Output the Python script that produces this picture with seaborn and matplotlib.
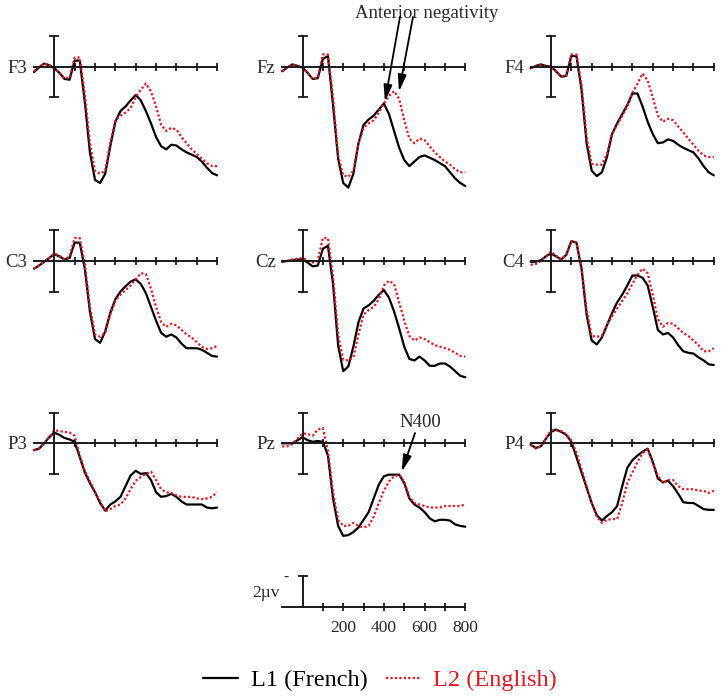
import pandas as pd
import matplotlib
matplotlib.use('Agg')
import matplotlib.pyplot as plt
from matplotlib.lines import Line2D
import seaborn as sns

# 1. data (ms, microvolt; negative plotted up)
times = list(range(-100, 801, 25))

F3_L1 = [0.35, 0.05, -0.2, -0.1, 0.1, 0.4, 0.8, 0.85, -0.4, -0.4, 2.3, 5.6, 7.4, 7.6, 7.0, 5.2, 3.6, 2.9, 2.6, 2.2,
         1.85, 2.2, 2.9, 3.7, 4.6, 5.2, 5.4, 5.1, 5.15, 5.4, 5.6, 5.75, 5.9, 6.2, 6.6, 6.95, 7.1]
F3_L2 = [0.3, 0.0, -0.2, -0.1, 0.1, 0.4, 0.75, 0.7, -0.6, -0.6, 1.8, 5.0, 6.8, 7.0, 6.8, 5.0, 3.5, 3.2, 3.0, 2.7,
         2.0, 1.5, 1.1, 1.6, 2.6, 3.8, 4.2, 4.0, 4.1, 4.6, 5.0, 5.4, 5.7, 6.0, 6.3, 6.5, 6.5]
Fz_L1 = [0.3, 0.05, -0.15, -0.05, 0.05, 0.4, 0.8, 0.75, -0.5, -0.7, 2.5, 6.0, 7.6, 7.9, 7.0, 5.0, 3.8, 3.45, 3.2, 2.8,
         2.4, 3.1, 4.2, 5.3, 6.1, 6.5, 6.2, 5.9, 5.8, 5.95, 6.1, 6.3, 6.5, 6.9, 7.3, 7.6, 7.8]
Fz_L2 = [0.3, 0.05, -0.15, -0.05, 0.05, 0.4, 0.8, 0.7, -0.8, -0.8, 2.0, 5.8, 7.1, 7.2, 6.8, 5.0, 4.0, 3.7, 3.5, 3.0,
         2.4, 1.9, 1.6, 2.1, 3.5, 4.7, 5.0, 4.7, 4.8, 5.2, 5.6, 5.9, 6.2, 6.4, 6.7, 6.9, 6.9]
F4_L1 = [0.1, -0.05, -0.15, -0.05, 0.0, 0.3, 0.65, 0.6, -0.7, -0.7, 1.5, 5.0, 6.8, 7.15, 6.9, 5.9, 4.4, 3.7, 3.1, 2.5,
         1.75, 1.75, 2.6, 3.6, 4.4, 5.0, 4.95, 4.75, 4.85, 5.1, 5.3, 5.45, 5.6, 6.0, 6.5, 6.9, 7.1]
F4_L2 = [0.1, -0.05, -0.1, 0.0, 0.0, 0.3, 0.65, 0.6, -0.8, -0.8, 1.2, 4.6, 6.35, 6.4, 6.4, 5.7, 4.4, 3.8, 3.2, 2.6,
         1.7, 1.1, 0.45, 0.9, 2.0, 3.2, 3.6, 3.4, 3.5, 3.9, 4.3, 4.7, 5.1, 5.5, 5.8, 5.9, 5.9]
C3_L1 = [0.5, 0.3, 0.05, -0.2, -0.45, -0.3, -0.1, -0.2, -1.2, -1.2, 0.5, 3.3, 5.1, 5.35, 4.6, 3.4, 2.5, 2.0, 1.65, 1.35,
         1.2, 1.5, 2.1, 3.0, 3.9, 4.7, 4.95, 4.8, 5.0, 5.4, 5.7, 5.7, 5.7, 5.8, 6.0, 6.2, 6.25]
C3_L2 = [0.5, 0.3, 0.05, -0.2, -0.5, -0.35, -0.1, -0.3, -1.5, -1.5, 0.2, 3.0, 4.8, 4.95, 4.7, 3.5, 2.6, 2.2, 1.9, 1.6,
         1.2, 0.8, 0.85, 1.8, 3.0, 4.0, 4.3, 4.1, 4.2, 4.5, 4.8, 5.0, 5.3, 5.6, 5.75, 5.7, 5.55]
Cz_L1 = [0.05, 0.0, -0.05, -0.1, -0.1, 0.1, 0.35, 0.3, -0.8, -1.0, 1.5, 5.5, 7.2, 6.9, 5.6, 4.0, 3.1, 2.9, 2.6, 2.2,
         1.9, 2.4, 3.3, 4.4, 5.6, 6.4, 6.5, 6.25, 6.5, 6.85, 6.85, 6.7, 6.7, 6.9, 7.2, 7.5, 7.6]
Cz_L2 = [0.05, 0.0, -0.1, -0.15, -0.2, -0.05, 0.1, 0.0, -1.5, -1.5, 1.0, 4.8, 6.45, 6.5, 6.3, 4.8, 3.5, 3.2, 3.0, 2.5,
         1.6, 1.3, 1.5, 2.7, 3.9, 4.9, 5.2, 5.0, 5.1, 5.3, 5.5, 5.6, 5.7, 5.8, 6.0, 6.2, 6.25]
C4_L1 = [0.05, 0.05, -0.05, -0.3, -0.5, -0.3, -0.1, -0.4, -1.3, -1.2, 0.5, 3.5, 5.2, 5.45, 5.0, 4.2, 3.4, 2.7, 2.2, 1.6,
         0.95, 0.95, 1.1, 1.6, 3.0, 4.5, 4.8, 4.7, 5.0, 5.5, 5.9, 6.0, 6.05, 6.3, 6.5, 6.75, 6.8]
C4_L2 = [0.25, 0.2, 0.0, -0.3, -0.6, -0.35, -0.1, -0.4, -1.3, -1.2, 0.4, 3.2, 4.9, 4.95, 4.9, 4.2, 3.6, 3.1, 2.6, 2.1,
         1.5, 0.9, 0.5, 0.8, 2.2, 3.8, 4.3, 4.05, 4.1, 4.4, 4.7, 4.9, 5.2, 5.5, 5.9, 5.9, 5.7]
P3_L1 = [0.45, 0.35, 0.0, -0.4, -0.7, -0.55, -0.35, -0.25, -0.1, 0.9, 1.9, 2.6, 3.2, 3.9, 4.4, 4.0, 3.8, 3.5, 2.8, 2.1,
         1.8, 2.0, 1.95, 2.4, 3.2, 3.5, 3.45, 3.3, 3.5, 3.8, 4.0, 4.0, 4.0, 4.0, 4.2, 4.25, 4.2]
P3_L2 = [0.45, 0.35, 0.0, -0.4, -0.85, -0.8, -0.75, -0.7, -0.5, 0.8, 1.8, 2.5, 3.2, 3.8, 4.45, 4.3, 4.1, 4.0, 3.6, 3.0,
         2.45, 2.2, 2.0, 1.85, 2.4, 3.0, 3.2, 3.25, 3.4, 3.5, 3.5, 3.5, 3.6, 3.65, 3.6, 3.5, 3.2]
Pz_L1 = [0.0, 0.0, 0.0, -0.2, -0.4, -0.2, -0.1, -0.15, -0.1, 0.8, 3.6, 5.4, 6.05, 6.0, 5.8, 5.5, 5.0, 4.5, 3.6, 2.7,
         2.15, 2.05, 2.05, 2.05, 2.6, 3.6, 4.0, 4.2, 4.5, 4.9, 5.1, 5.0, 5.0, 5.05, 5.3, 5.4, 5.45]
Pz_L2 = [0.2, 0.2, 0.05, -0.3, -0.65, -0.6, -0.5, -0.9, -1.0, 0.5, 3.2, 5.0, 5.4, 5.4, 5.2, 5.4, 5.5, 5.4, 4.8, 3.9,
         3.1, 2.5, 2.15, 2.07, 2.5, 3.5, 3.9, 4.0, 4.1, 4.2, 4.2, 4.2, 4.1, 4.1, 4.1, 4.1, 4.0]
P4_L1 = [0.1, 0.3, 0.2, -0.3, -0.75, -0.9, -0.75, -0.55, -0.1, 0.9, 1.9, 2.9, 3.9, 4.7, 5.05, 4.75, 4.5, 4.1, 2.8, 1.6,
         1.1, 0.8, 0.55, 0.35, 1.2, 2.3, 2.55, 2.45, 2.8, 3.3, 3.85, 3.9, 3.9, 4.1, 4.3, 4.35, 4.35]
P4_L2 = [0.1, 0.35, 0.2, -0.3, -0.85, -0.85, -0.8, -0.6, -0.15, 0.6, 1.7, 2.8, 3.9, 4.8, 5.2, 5.0, 4.95, 4.95, 3.9, 2.6,
         1.9, 1.2, 0.65, 0.4, 1.3, 2.1, 2.6, 2.4, 2.4, 2.8, 3.0, 3.0, 3.0, 3.1, 3.1, 3.25, 3.1]

channels = ['F3', 'Fz', 'F4', 'C3', 'Cz', 'C4', 'P3', 'Pz', 'P4']
waves = {
    'F3': (F3_L1, F3_L2), 'Fz': (Fz_L1, Fz_L2), 'F4': (F4_L1, F4_L2),
    'C3': (C3_L1, C3_L2), 'Cz': (Cz_L1, Cz_L2), 'C4': (C4_L1, C4_L2),
    'P3': (P3_L1, P3_L2), 'Pz': (Pz_L1, Pz_L2), 'P4': (P4_L1, P4_L2),
}
groups = ['L1 (French)', 'L2 (English)']
scale_labels = ['', '200', '', '400', '', '600', '', '800']

# 2. style
sns.set_style('white')
plt.rcParams['font.family'] = ['Liberation Serif', 'DejaVu Serif']
RED = '#e3171f'
palette = {groups[0]: 'black', groups[1]: RED}
dashes = {groups[0]: '', groups[1]: (1, 1)}

W, H = 723, 700
PX_MS = 0.2035   # pixels per ms
PX_UV = 15.3     # pixels per microvolt
col_zero = [54.3, 302.5, 551]
row_axis = [66.7, 261, 443.3]

fig = plt.figure(figsize=(W / 100, H / 100), dpi=100)


def make_axes(zero_x, axis_y):
    left = zero_x - 100 * PX_MS
    right = zero_x + 800 * PX_MS
    top = axis_y - 3.5 * PX_UV
    bottom = axis_y + 9.5 * PX_UV
    ax = fig.add_axes([left / W, 1 - bottom / H, (right - left) / W, (bottom - top) / H])
    ax.set_facecolor('none')
    ax.set_xlim(-100, 800)
    ax.set_ylim(9.5, -3.5)
    ax.spines['top'].set_visible(False)
    ax.spines['right'].set_visible(False)
    ax.spines['bottom'].set_position(('data', 0))
    ax.spines['left'].set_position(('data', 0))
    for s in ['bottom', 'left']:
        ax.spines[s].set_linewidth(1.4)
        ax.spines[s].set_color('#1a1a1a')
    ax.set_xticks(range(100, 801, 100))
    ax.set_xticklabels([])
    ax.tick_params(axis='x', bottom=True, direction='inout', length=5.5, width=1.3, color='#1a1a1a')
    ax.tick_params(axis='y', left=True, direction='inout', length=7.5, width=1.3, color='#1a1a1a')
    return ax


axes = {}
for i, ch in enumerate(channels):
    ax = make_axes(col_zero[i % 3], row_axis[i // 3])
    l1, l2 = waves[ch]
    df = pd.DataFrame({
        'time': times * 2,
        'amp': l1 + l2,
        'group': [groups[0]] * len(times) + [groups[1]] * len(times),
    })
    sns.lineplot(data=df, x='time', y='amp', hue='group', style='group', palette=palette,
                 dashes=dashes, hue_order=groups, legend=False, lw=1.6, ax=ax, clip_on=False)
    ax.spines['left'].set_bounds(-2, 2)
    ax.set_yticks([-2, 2])
    ax.set_yticklabels([])
    ax.set_xlabel('')
    ax.set_ylabel('')
    ax.text(-132, 0.1, ch, ha='right', va='center', fontsize=13.5)
    axes[ch] = ax

# 3. annotations
arrow = dict(arrowstyle='-|>,head_length=0.55,head_width=0.14', color='black', lw=1.3,
             mutation_scale=18, shrinkA=0, shrinkB=0)
ax = axes['Fz']
ax.text(612, -3.5, 'Anterior negativity', ha='center', va='center', fontsize=13.5)
ax.annotate('', xy=(405, 2.29), xytext=(479, -3.25), arrowprops=arrow, annotation_clip=False)
ax.annotate('', xy=(474, 1.63), xytext=(543, -3.25), arrowprops=arrow, annotation_clip=False)

ax = axes['Pz']
ax.text(577, -1.33, 'N400', ha='center', va='center', fontsize=13.5)
ax.annotate('', xy=(487, 1.86), xytext=(553, -0.67), arrowprops=arrow, annotation_clip=False)

# 4. scale panel
ax = make_axes(col_zero[1], 606.7)
ax.spines['left'].set_bounds(-2, 0)
ax.set_yticks([-2])
ax.set_yticklabels(['-'], fontsize=11)
ax.tick_params(axis='y', pad=6)
ax.set_xticklabels(scale_labels, fontsize=12.5)
ax.tick_params(axis='x', pad=7)
ax.text(-180, -0.9, '2\u00b5v', ha='center', va='center', fontsize=12.5)

# 5. legend
handles = [Line2D([], [], color='black', lw=1.6),
           Line2D([], [], color=RED, lw=1.6, dashes=(1, 1))]
leg = fig.legend(handles, groups, ncol=2, loc='center', bbox_to_anchor=(380 / W, 1 - 680 / H),
                 frameon=False, fontsize=17.5, handlelength=1.45, handletextpad=0.5, columnspacing=0.75)
leg.get_texts()[0].set_color('black')
leg.get_texts()[1].set_color(RED)

fig.savefig('out.png', dpi=100)
